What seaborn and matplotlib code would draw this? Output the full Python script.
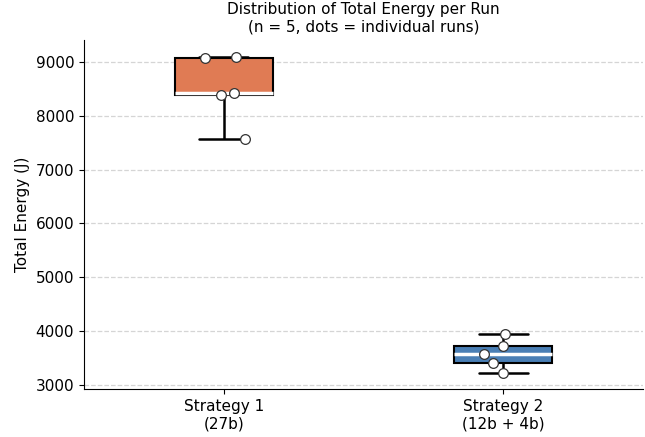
import numpy as np
import pandas as pd
import seaborn as sns
import matplotlib
matplotlib.use("Agg")
import matplotlib.pyplot as plt

sns.set_style("ticks")
plt.rcParams['font.family'] = ['DejaVu Sans']
plt.rcParams['text.color'] = 'black'
plt.rcParams['axes.labelcolor'] = 'black'
plt.rcParams['xtick.color'] = 'black'
plt.rcParams['ytick.color'] = 'black'
plt.rcParams['axes.edgecolor'] = 'black'

# data
strategies = ['Strategy 1\n(27b)', 'Strategy 2\n(12b + 4b)']
energy_s1 = [9080, 9100, 8380, 8425, 7560]
energy_s2 = [3950, 3715, 3575, 3410, 3225]
palette = ['#E07B54', '#4A7FB5']

df = pd.DataFrame({
    'strategy': [strategies[0]] * len(energy_s1) + [strategies[1]] * len(energy_s2),
    'energy': energy_s1 + energy_s2,
})

fig, ax = plt.subplots(figsize=(6.45, 4.37), dpi=100)

sns.boxplot(
    data=df, x='strategy', y='energy', hue='strategy', palette=palette,
    width=0.35, whis=np.inf, ax=ax, legend=False, saturation=1,
    boxprops={'edgecolor': 'black', 'linewidth': 1.5},
    whiskerprops={'color': 'black', 'linewidth': 1.8},
    capprops={'color': 'black', 'linewidth': 1.8},
    medianprops={'color': 'white', 'linewidth': 2.5},
)

np.random.seed(7)
sns.stripplot(
    data=df, x='strategy', y='energy', color='white', edgecolor='#333333',
    linewidth=0.9, size=7, jitter=0.08, ax=ax, zorder=5,
)

ax.yaxis.grid(True, linestyle='--', color='#d5d5d5', linewidth=0.9)
ax.set_axisbelow(True)
ax.set_ylim(2925, 9405)
ax.set_xlim(-0.5, 1.5)
sns.despine(ax=ax)

ax.set_xlabel('')
ax.set_ylabel('Total Energy (J)', fontsize=11)
ax.tick_params(labelsize=11)
ax.set_title('Distribution of Total Energy per Run\n(n = 5, dots = individual runs)', fontsize=11)

fig.subplots_adjust(left=0.13, right=0.997, top=0.908, bottom=0.11)
fig.savefig('out.png', dpi=100)
